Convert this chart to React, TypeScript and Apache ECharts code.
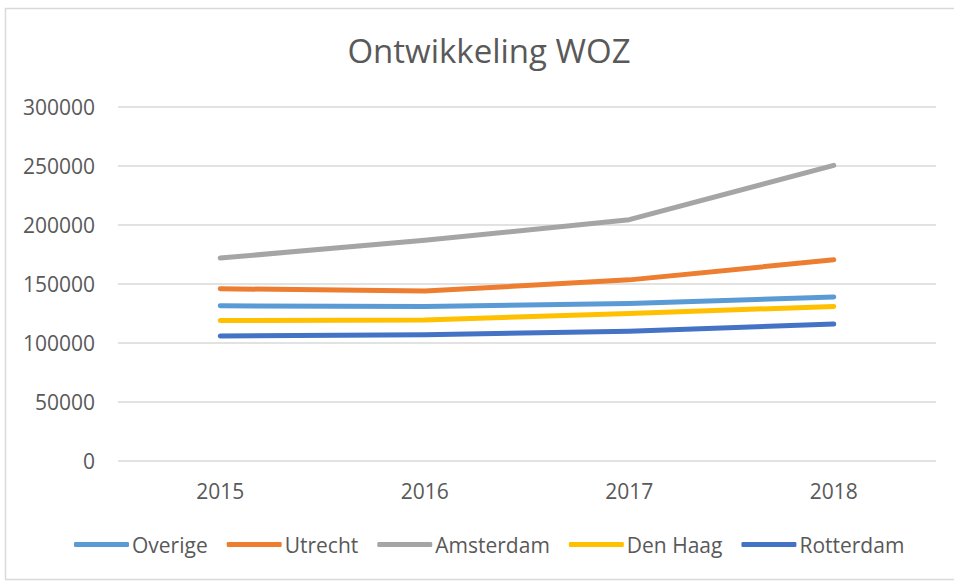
import React, { useEffect, useRef } from "react";
import * as echarts from "echarts";

const years = ["2015", "2016", "2017", "2018"];
const overige = [131500, 131000, 133500, 139000];
const utrecht = [146000, 144000, 153500, 170500];
const amsterdam = [172000, 187000, 204500, 250500];
const denHaag = [119000, 119500, 125000, 131000];
const rotterdam = [106000, 107000, 110000, 116000];

const seriesNames = ["Overige", "Utrecht", "Amsterdam", "Den Haag", "Rotterdam"];
const seriesData = [overige, utrecht, amsterdam, denHaag, rotterdam];
const colors = ["#5B9BD5", "#ED7D31", "#A5A5A5", "#FFC000", "#4472C4"];

const FONT = "'Open Sans', 'Noto Sans', sans-serif";

export default function App() {
  const ref = useRef<HTMLDivElement>(null);
  useEffect(() => {
    if (!ref.current) return;
    const chart = echarts.init(ref.current, null, { renderer: "svg" });
    chart.setOption({
      animation: false,
      backgroundColor: "#ffffff",
      title: {
        text: "Ontwikkeling WOZ",
        left: 484,
        textAlign: "center",
        top: 29,
        textStyle: { fontFamily: FONT, fontSize: 33, fontWeight: "normal", color: "#595959" },
      },
      graphic: [
        {
          type: "rect",
          shape: { x: 5.5, y: 8.5, width: 960, height: 571 },
          style: { fill: "none", stroke: "#D9D9D9", lineWidth: 1.5 },
          silent: true,
        },
      ],
      legend: {
        data: seriesNames.map((n) => ({ name: n, icon: "roundRect" })),
        top: 529,
        left: 69,
        itemWidth: 55,
        itemHeight: 5,
        itemGap: 19,
        textStyle: { fontFamily: FONT, fontSize: 21, color: "#595959", padding: [0, 0, 0, -2] },
      },
      grid: { left: 118, right: 18, top: 107, bottom: 120 },
      xAxis: {
        type: "category",
        data: years,
        boundaryGap: true,
        axisLine: { show: false },
        axisTick: { show: false },
        axisLabel: { fontFamily: FONT, fontSize: 21, color: "#595959", margin: 19 },
      },
      yAxis: {
        type: "value",
        min: 0,
        max: 300000,
        interval: 50000,
        axisLine: { show: false },
        axisTick: { show: false },
        axisLabel: {
          fontFamily: FONT,
          fontSize: 21,
          color: "#595959",
          margin: 23,
          formatter: (v: number) => String(v),
        },
        splitLine: { lineStyle: { color: "#D9D9D9", width: 1.5 } },
      },
      series: seriesNames.map((name, i) => ({
        name,
        type: "line",
        data: seriesData[i],
        symbol: "none",
        smooth: false,
        lineStyle: { width: 5, color: colors[i], cap: "round", join: "round" },
        itemStyle: { color: colors[i] },
      })),
    });
    return () => chart.dispose();
  }, []);
  return (
    <div
      ref={ref}
      style={{ position: "absolute", left: 0, top: 0, width: 954, height: 581 }}
    />
  );
}
